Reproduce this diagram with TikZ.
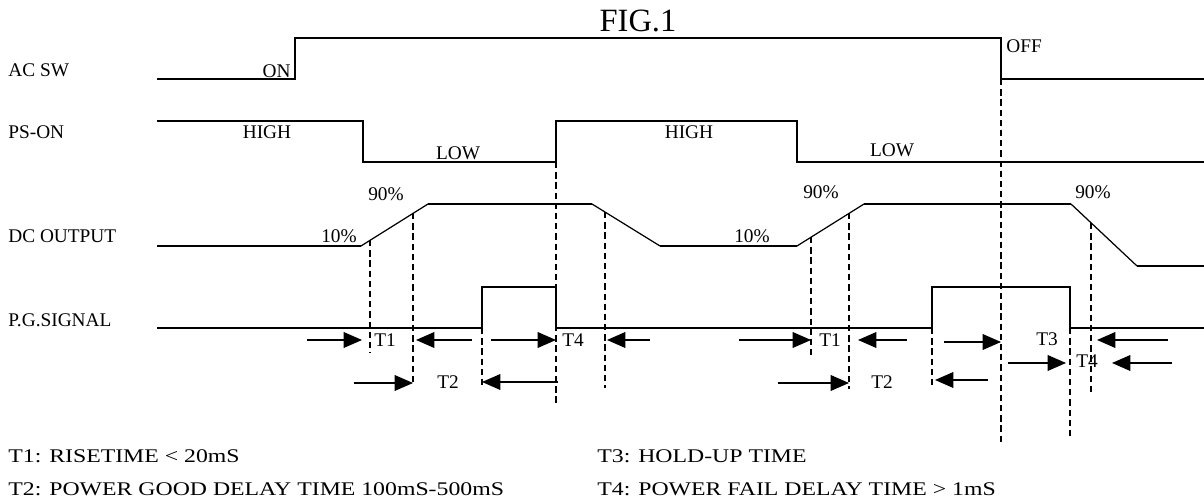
\documentclass[tikz,border=0pt]{standalone}
\usepackage{fontspec}
\setmainfont{Liberation Serif}
\newfontfamily\notefont{Liberation Serif}[FakeStretch=1.23]
\usetikzlibrary{arrows.meta}

\begin{document}
\begin{tikzpicture}[x=0.02cm,y=-0.02cm]
        % Define line properties
        \def\signalwidth{1pt}    % Solid waveforms
        \def\guidewidth{0.8pt}   % Dashed timing guides
        \def\labelsize{\fontsize{11}{13}\selectfont}
        \tikzset{
            signal/.style={line width=\signalwidth, line join=miter},
            slope/.style={line width=0.7pt},
            guide/.style={line width=\guidewidth, dash pattern=on 3.6pt off 2.2pt},
            marker/.style={line width=0.7pt, -{Triangle[length=10.5pt,width=9pt]}},
            lbl/.style={font=\labelsize, inner sep=0pt},
            note/.style={font=\notefont\labelsize, inner sep=0pt, anchor=west}
        }
        \useasboundingbox (0,0) rectangle (1204,502);

        % Title
        \node[font=\fontsize{18.5}{20}\selectfont, inner sep=0pt] (title) at (638,21) {FIG.1};

        % Signal names
        \node[lbl, anchor=west] (acsw) at (8,70) {AC SW};
        \node[lbl, anchor=west] (pson) at (8,132) {PS-ON};
        \node[lbl, anchor=west] (dcout) at (8,236) {DC OUTPUT};
        \node[lbl, anchor=west] (pgsig) at (8,320) {P.G.SIGNAL};

        % AC SW
        \draw[signal] (157,79) -- (295,79) -- (295,38) -- (1001,38) -- (1001,79) -- (1204,79);
        \node[lbl, anchor=east] (on) at (291,71) {ON};
        \node[lbl, anchor=west] (off) at (1006,46) {OFF};

        % PS-ON
        \draw[signal] (157,121) -- (363,121) -- (363,162) -- (556,162) -- (556,121)
            -- (797,121) -- (797,162) -- (1204,162);
        \node[lbl] (high1) at (267,132) {HIGH};
        \node[lbl] (low1) at (458,153) {LOW};
        \node[lbl] (high2) at (689,132) {HIGH};
        \node[lbl] (low2) at (892,150) {LOW};

        % DC OUTPUT
        \draw[signal] (157,246) -- (361,246);
        \draw[slope] (361,246) -- (428,204);
        \draw[signal] (428,204) -- (592,204);
        \draw[slope] (592,204) -- (660,246);
        \draw[signal] (660,246) -- (797,246);
        \draw[slope] (797,246) -- (864,204);
        \draw[signal] (864,204) -- (1071,204);
        \draw[slope] (1071,204) -- (1137,266);
        \draw[signal] (1137,266) -- (1204,266);
        \node[lbl] (pa) at (339,236) {10\%};
        \node[lbl] (pb) at (386,194) {90\%};
        \node[lbl] (pc) at (752,236) {10\%};
        \node[lbl] (pd) at (821,192) {90\%};
        \node[lbl] (pe) at (1093,192) {90\%};

        % P.G.SIGNAL
        \draw[signal] (157,328) -- (482,328) -- (482,287) -- (556,287) -- (556,328)
            -- (932,328) -- (932,287) -- (1070,287) -- (1070,328) -- (1204,328);

        % Dashed guides
        \foreach \x/\ya/\yb in {370/240/353, 413/213/383, 482/328/389, 556/162/405,
                605/212/388, 811/237/357, 849/213/389, 932/328/389,
                1001/79/442, 1070/328/440, 1091/223/393}
            \draw[guide] (\x,\ya) -- (\x,\yb);

        % Timing arrows
        \foreach \xa/\xb/\y in {307/362/340, 472/416/340, 491/556/340, 650/607/340,
                739/811/340, 907/858/340, 944/1001/342, 1168/1097/340,
                1008/1066/363, 1172/1112/363,
                354/413/383, 558/482/382, 778/849/383, 988/935/380}
            \draw[marker] (\xa,\y) -- (\xb,\y);
        \node[lbl] (ta) at (385,340) {T1};
        \node[lbl] (tb) at (573,340) {T4};
        \node[lbl] (tc) at (448,382) {T2};
        \node[lbl] (td) at (830,340) {T1};
        \node[lbl] (te) at (882,382) {T2};
        \node[lbl] (tf) at (1047,339) {T3};
        \node[lbl] (tg) at (1087,361) {T4};

        % Legend
        \node[note] (n1) at (8,456) {T1: RISETIME < 20mS};
        \node[note] (n2) at (8,489) {T2: POWER GOOD DELAY TIME 100mS-500mS};
        \node[note] (n3) at (597,456) {T3: HOLD-UP TIME};
        \node[note] (n4) at (597,489) {T4: POWER FAIL DELAY TIME > 1mS};
    \end{tikzpicture}
\end{document}
